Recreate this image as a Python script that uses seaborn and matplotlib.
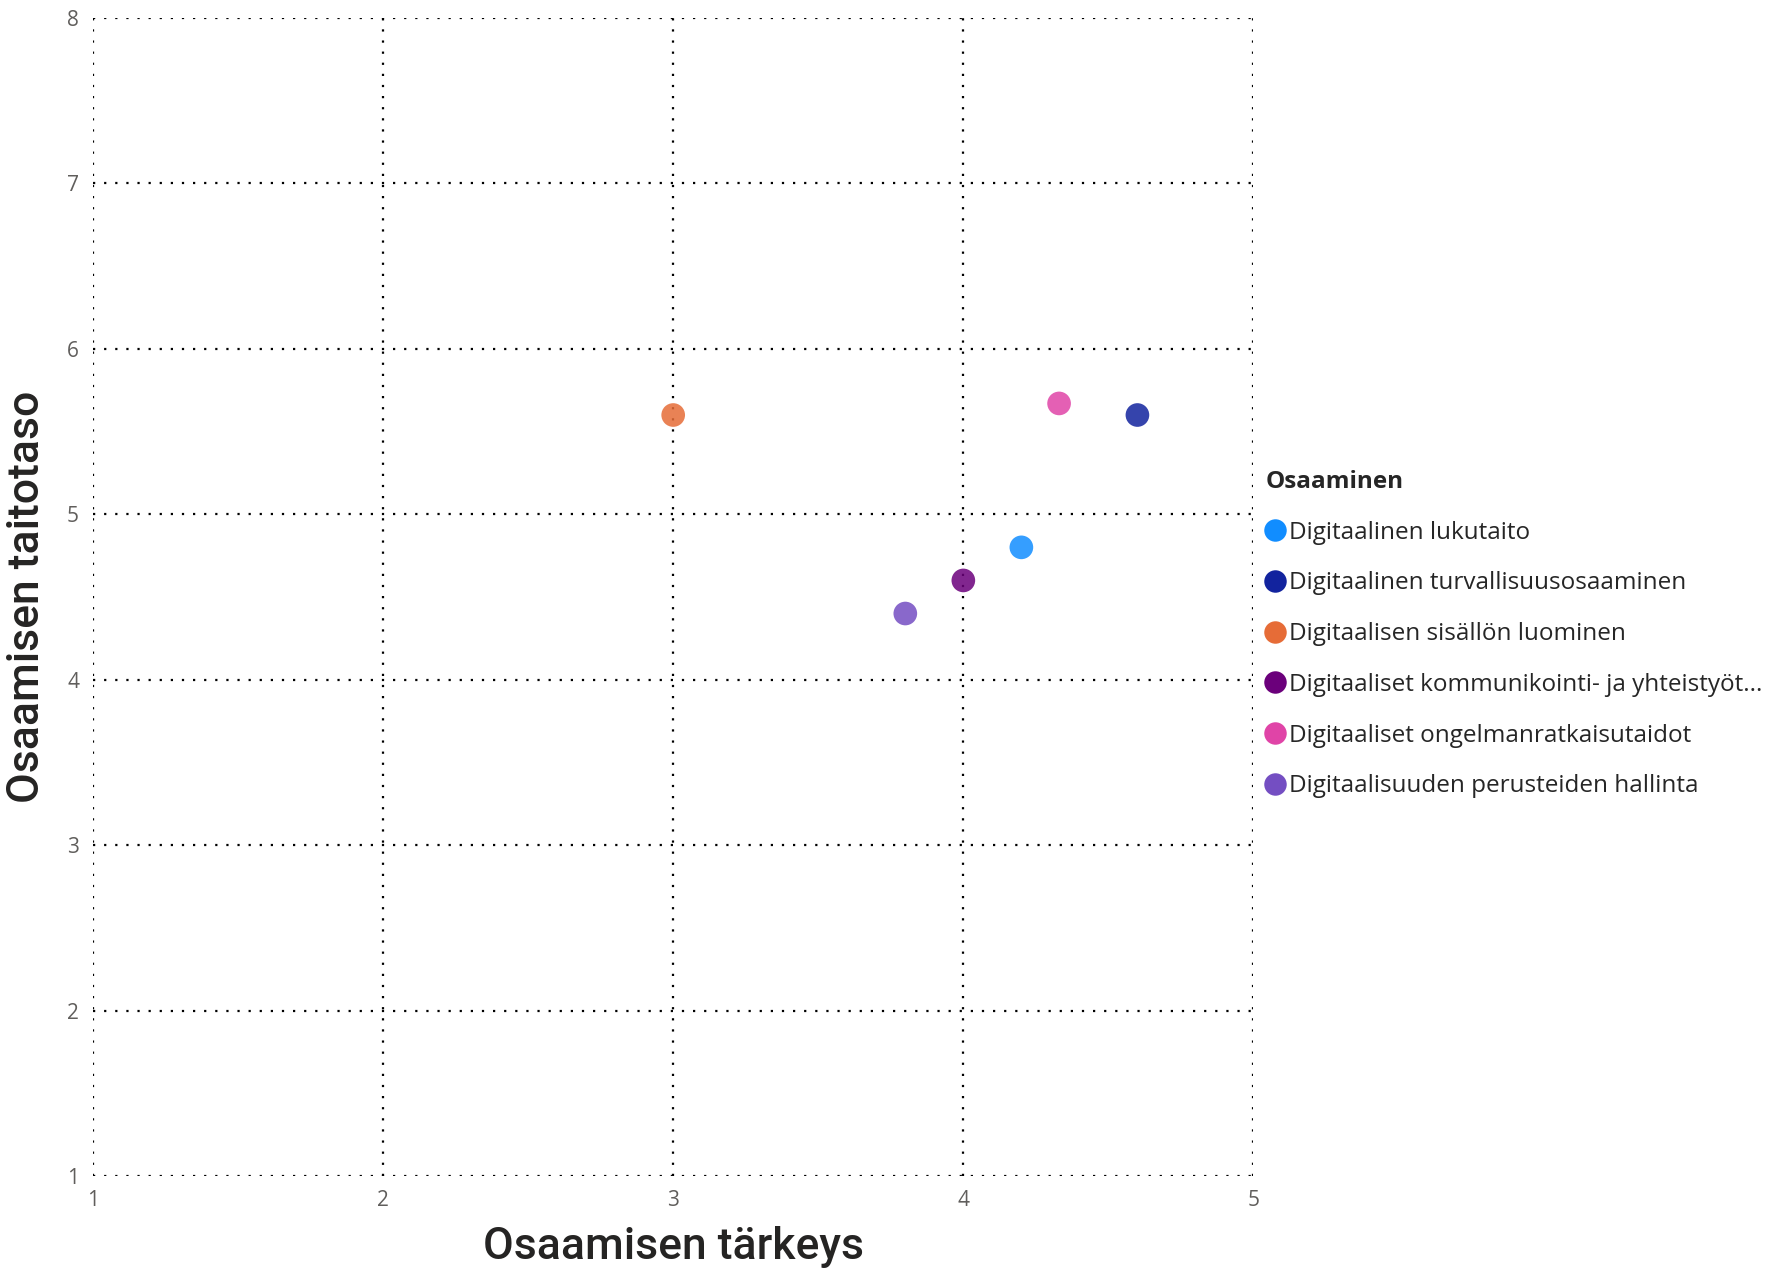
import numpy as np
import pandas as pd
import matplotlib.pyplot as plt
import seaborn as sns
#
# Data:
osaaminen = [
    'Digitaalinen lukutaito',
    'Digitaalinen turvallisuusosaaminen',
    'Digitaalisen sisällön luominen',
    'Digitaaliset kommunikointi- ja yhteistyöt...',
    'Digitaaliset ongelmanratkaisutaidot',
    'Digitaalisuuden perusteiden hallinta',
]
tarkeys = [4.2, 4.6, 3.0, 4.0, 4.33, 3.8]
taitotaso = [4.8, 5.6, 5.6, 4.6, 5.67, 4.4]
colors = ['#118DFF', '#12239E', '#E66C37', '#6B007B', '#E044A7', '#744EC2']
#
# Build the dataframe:
df = pd.DataFrame({
    'Osaaminen': osaaminen,
    'tarkeys': tarkeys,
    'taitotaso': taitotaso,
})
#
# Create the figure:
sns.set_style('white')
fig = plt.figure(figsize=(17.8, 12.68), dpi=100)
ax = fig.add_axes([0.0522, 0.0726, 0.652, 0.9132])
sns.scatterplot(
    data=df,
    x='tarkeys',
    y='taitotaso',
    hue='Osaaminen',
    palette=dict(zip(osaaminen, colors)),
    s=290,
    alpha=0.85,
    linewidth=0,
    ax=ax
)
#
# Axes, grid and labels:
ax.set_xlim(1, 5)
ax.set_ylim(1, 8)
ax.set_xticks([1, 2, 3, 4, 5])
ax.set_yticks([1, 2, 3, 4, 5, 6, 7, 8])
ax.grid(True, linestyle=(0, (1, 4)), color='black', linewidth=1.6)
for s in ax.spines.values():
    s.set_visible(False)
ax.tick_params(length=0, labelsize=15, colors='#605E5C', pad=10)
for t in ax.get_xticklabels() + ax.get_yticklabels():
    t.set_family('Open Sans')
ax.set_xlabel('Osaamisen tärkeys', fontsize=32, family='Roboto',
              fontweight='medium', color='#252423', labelpad=11)
ax.set_ylabel('Osaamisen taitotaso', fontsize=32, family='Roboto',
              fontweight='medium', color='#252423', labelpad=14)
#
# Legend on the right:
leg = ax.legend(
    title='Osaaminen',
    loc='center left',
    bbox_to_anchor=(0.998, 0.468),
    frameon=False,
    fontsize=17.5,
    title_fontsize=17.5,
    markerscale=0.95,
    handlelength=0.8,
    handletextpad=0.15,
    labelspacing=1.1,
    borderaxespad=0.2
)
leg.get_title().set_fontweight('bold')
leg._legend_box.align = 'left'
for t in leg.get_texts():
    t.set_family('Open Sans')
leg.get_title().set_family('Open Sans')
for h in leg.legend_handles:
    h.set_alpha(1)
#
# Save it:
fig.savefig('out.png', dpi=100)
